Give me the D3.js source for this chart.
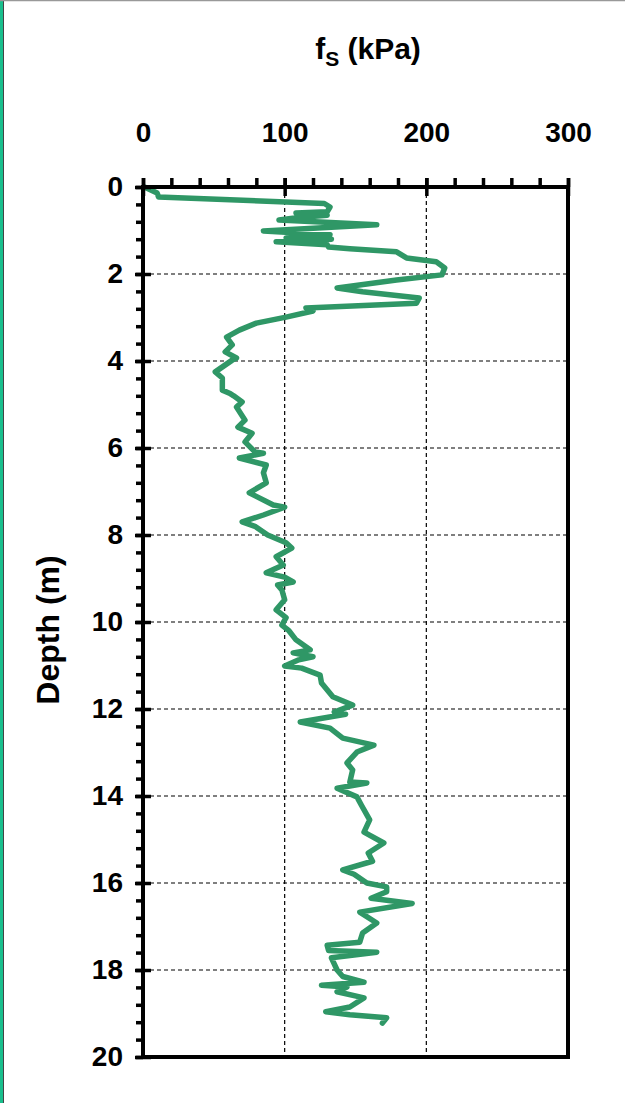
<!DOCTYPE html>
<html>
<head>
<meta charset="utf-8">
<script src="https://cdn.jsdelivr.net/npm/d3@7"></script>
<style>
  body { margin: 0; background: #fff; }
  svg { display: block; }
  text { font-family: "Liberation Sans", Arial, sans-serif; font-weight: bold; fill: #000; }
</style>
</head>
<body>
<svg id="chart" width="625" height="1103"></svg>
<script>
// sleeve friction profile
const depth = [0, 0.14, 0.23, 0.38, 0.46, 0.57, 0.6, 0.65, 0.7, 0.76, 0.87, 1.01, 1.1, 1.17, 1.2, 1.26, 1.33, 1.38, 1.42, 1.49,
  1.63, 1.72, 1.86, 2.02, 2.14, 2.32, 2.41, 2.55, 2.67, 2.72, 2.78, 2.85, 2.99, 3.13, 3.29, 3.45, 3.63, 3.79, 3.93, 3.98,
  4.25, 4.39, 4.67, 4.74, 4.8, 4.94, 5.06, 5.36, 5.52, 5.66, 5.86, 6.09, 6.12, 6.23, 6.39, 6.57, 6.8, 7.03, 7.31, 7.36,
  7.54, 7.7, 7.8, 8.0, 8.18, 8.3, 8.5, 8.69, 8.87, 8.97, 9.08, 9.15, 9.26, 9.49, 9.72, 9.9, 10.07, 10.2, 10.41, 10.64,
  10.71, 10.8, 10.87, 11.01, 11.06, 11.22, 11.4, 11.72, 11.91, 12.07, 12.12, 12.3, 12.44, 12.67, 12.83, 12.99, 13.24, 13.4, 13.68, 13.7,
  13.82, 14.02, 14.2, 14.55, 14.83, 15.08, 15.31, 15.5, 15.7, 15.8, 16.0, 16.09, 16.2, 16.35, 16.47, 16.67, 16.92, 17.15, 17.36, 17.43,
  17.55, 17.59, 17.72, 18.0, 18.15, 18.28, 18.35, 18.39, 18.5, 18.64, 18.85, 18.96, 19.03, 19.1, 19.22];
const fs = [1, 10, 11, 128, 132, 130, 108, 130, 110, 96, 165, 85, 132, 101, 133, 94, 130, 131, 146, 179,
  186, 207, 213, 211, 179, 137, 155, 195, 193, 160, 115, 120, 101, 80, 68, 59, 63, 58, 66, 63,
  51, 56, 56, 61, 64, 70, 66, 72, 67, 77, 72, 79, 85, 68, 87, 85, 87, 75, 92, 100,
  85, 70, 79, 88, 101, 105, 94, 99, 87, 100, 106, 95, 98, 100, 94, 101, 98, 103, 108, 118,
  106, 120, 110, 100, 112, 125, 126, 134, 148, 135, 143, 111, 132, 141, 163, 151, 144, 148, 146, 158,
  137, 151, 154, 160, 156, 170, 159, 162, 141, 149, 158, 172, 172, 161, 190, 153, 165, 155, 153, 130,
  131, 165, 133, 137, 141, 156, 126, 144, 137, 156, 146, 129, 146, 172, 169];

const xTicks = [0, 100, 200, 300];
const xMinor = d3.range(0, 301, 20);
const yTicks = d3.range(0, 21, 2);
const yMinor = d3.range(0, 20.01, 0.4).map(v => +v.toFixed(1));

const svg = d3.select('#chart');

// frame of the slide
svg.append('rect').attr('x', 0).attr('y', 0).attr('width', 3).attr('height', 1103).attr('fill', '#19bf8d');
svg.append('line').attr('x1', 3.5).attr('x2', 3.5).attr('y1', 0).attr('y2', 1103).attr('stroke', '#444').attr('stroke-width', 1);
svg.append('line').attr('x1', 0).attr('x2', 625).attr('y1', 0.5).attr('y2', 0.5).attr('stroke', '#999').attr('stroke-width', 1.5);

const x = d3.scaleLinear().domain([0, 300]).range([143, 568]);
const y = d3.scaleLinear().domain([0, 20]).range([187, 1057]);

// grid
svg.append('g')
  .selectAll('line')
  .data(xTicks.slice(1, -1))
  .join('line')
  .attr('x1', d => x(d)).attr('x2', d => x(d))
  .attr('y1', y(0)).attr('y2', y(20))
  .attr('stroke', '#000').attr('stroke-width', 1.2).attr('stroke-dasharray', '4,3');

svg.append('g')
  .selectAll('line')
  .data(yTicks.slice(1, -1))
  .join('line')
  .attr('x1', x(0)).attr('x2', x(300))
  .attr('y1', d => y(d)).attr('y2', d => y(d))
  .attr('stroke', '#000').attr('stroke-width', 1.2).attr('stroke-dasharray', '4,3');

// data line
const line = d3.line()
  .x((d, i) => x(fs[i]))
  .y(d => y(d));

svg.append('path')
  .datum(depth)
  .attr('d', line)
  .attr('fill', 'none')
  .attr('stroke', '#2f9766')
  .attr('stroke-width', 5.5)
  .attr('stroke-linejoin', 'round')
  .attr('stroke-linecap', 'round');

// axes
function ticksOnly(g) {
  g.select('.domain').remove();
  g.selectAll('.tick line').attr('stroke', '#000').attr('stroke-width', 3.5);
  return g;
}

svg.append('g')
  .attr('transform', `translate(0,${y(0)})`)
  .call(d3.axisTop(x).tickValues(xMinor).tickSize(9).tickFormat(''))
  .call(ticksOnly);
svg.append('g')
  .attr('transform', `translate(0,${y(0)})`)
  .call(d3.axisTop(x).tickValues(xTicks).tickSize(-9).tickFormat(''))
  .call(ticksOnly);
svg.append('g')
  .attr('transform', `translate(0,${y(0)})`)
  .call(d3.axisTop(x).tickValues(xTicks).tickSize(9).tickPadding(36))
  .call(ticksOnly)
  .call(g => g.selectAll('.tick text').attr('font-size', 28).attr('fill', '#000'));

svg.append('g')
  .attr('transform', `translate(${x(0)},0)`)
  .call(d3.axisLeft(y).tickValues(yMinor).tickSize(7).tickFormat(''))
  .call(ticksOnly);
svg.append('g')
  .attr('transform', `translate(${x(0)},0)`)
  .call(d3.axisLeft(y).tickValues(yTicks).tickSize(-8).tickFormat(''))
  .call(ticksOnly);
svg.append('g')
  .attr('transform', `translate(${x(0)},0)`)
  .call(d3.axisLeft(y).tickValues(yTicks).tickSize(8).tickPadding(12))
  .call(ticksOnly)
  .call(g => g.selectAll('.tick text').attr('font-size', 28).attr('fill', '#000'));

// plot frame
svg.append('rect')
  .attr('x', x(0)).attr('y', y(0))
  .attr('width', x(300) - x(0)).attr('height', y(20) - y(0))
  .attr('fill', 'none').attr('stroke', '#000').attr('stroke-width', 4);

// titles
const title = svg.append('text')
  .attr('x', 368).attr('y', 59)
  .attr('text-anchor', 'middle')
  .attr('font-size', 30);
title.append('tspan').text('f');
title.append('tspan').attr('font-size', 21).attr('dy', 7).text('S');
title.append('tspan').attr('dy', -7).text(' (kPa)');

svg.append('text')
  .attr('transform', 'translate(59,630) rotate(-90)')
  .attr('text-anchor', 'middle')
  .attr('font-size', 32)
  .text('Depth (m)');
</script>
</body>
</html>
